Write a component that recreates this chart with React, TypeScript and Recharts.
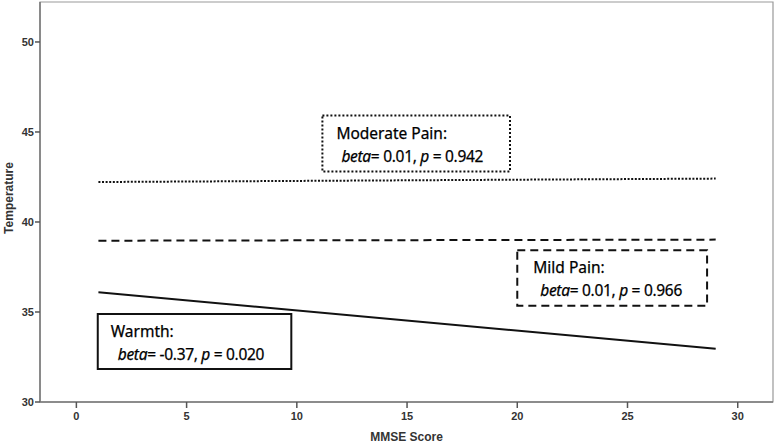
import { LineChart, Line, XAxis, YAxis, ReferenceArea } from "recharts";

// MMSE score endpoints of the fitted lines
const mmse = [1, 29];
const moderatePain = [42.22, 42.41];
const mildPain = [38.96, 39.02];
const warmth = [36.09, 32.96];

const xTicks = [0, 5, 10, 15, 20, 25, 30];
const yTicks = [30, 35, 40, 45, 50];
const xDomain = [-1.65, 31.6];
const yDomain = [30, 52.22];

// annotation boxes
const boxes = [
  { title: "Moderate Pain:", beta: "0.01", p: "0.942", x1: 11.16, x2: 19.67, y1: 42.81, y2: 45.91, dash: "2 2", dx1: 14, dx2: 19 },
  { title: "Mild Pain:", beta: "0.01", p: "0.966", x1: 20.0, x2: 28.61, y1: 35.35, y2: 38.43, dash: "8 5", dx1: 16, dx2: 23 },
  { title: "Warmth:", beta: "-0.37", p: "0.020", x1: 0.97, x2: 9.75, y1: 31.83, y2: 34.89, dash: undefined, dx1: 13, dx2: 20 },
];

const data = mmse.map((x, i) => ({
  x,
  moderate: moderatePain[i],
  mild: mildPain[i],
  warmth: warmth[i],
}));

const tickStyle = {
  fontSize: 11,
  fontWeight: 700,
  fill: "#333",
  fontFamily: "'Liberation Sans Narrow', 'Liberation Sans', Arial, sans-serif",
};

const boxFont = "'Noto Sans', 'Open Sans', sans-serif";

function boxLabel(b: (typeof boxes)[number]) {
  return (props: any) => {
    const vb = props.viewBox || {};
    return (
      <g>
        <text x={vb.x + b.dx1} y={vb.y + 23} fontSize={15.5} fontFamily={boxFont} fill="#000" stroke="#000" strokeWidth={0.25}>
          {b.title}
        </text>
        <text x={vb.x + b.dx2} y={vb.y + 46} fontSize={15.5} letterSpacing={-0.3} fontFamily={boxFont} fill="#000" stroke="#000" strokeWidth={0.25}>
          <tspan fontStyle="italic">beta</tspan>
          <tspan>{`= ${b.beta}, `}</tspan>
          <tspan fontStyle="italic">p</tspan>
          <tspan>{` = ${b.p}`}</tspan>
        </text>
      </g>
    );
  };
}

const yTitle = () => {
  const cy = 198;
  return (
    <text x={9} y={cy} transform={`rotate(-90, 9, ${cy})`} textAnchor="middle" dominantBaseline="central"
      fontSize={12} fontWeight={700} fill="#333" fontFamily={tickStyle.fontFamily}>
      Temperature
    </text>
  );
};

const xTitle = (props: any) => {
  const vb = props.viewBox || {};
  return (
    <text x={vb.x + vb.width / 2} y={441} textAnchor="middle"
      fontSize={12} fontWeight={700} fill="#333" fontFamily={tickStyle.fontFamily}>
      MMSE Score
    </text>
  );
};

export default function App() {
  return (
    <div style={{ position: "absolute", left: 0, top: 0, background: "#fff" }}>
      <LineChart width={778} height={445} data={data} margin={{ top: 2, right: 5, left: 0, bottom: 0 }}>
        <XAxis
          dataKey="x"
          type="number"
          domain={xDomain}
          ticks={xTicks}
          allowDataOverflow
          height={43}
          tick={tickStyle}
          tickSize={6}
          tickMargin={4}
          axisLine={{ stroke: "#777", strokeWidth: 1.5 }}
          tickLine={{ stroke: "#555", strokeWidth: 1.5 }}
          label={xTitle}
        />
        <YAxis
          type="number"
          domain={yDomain}
          ticks={yTicks}
          allowDataOverflow
          width={40}
          tick={tickStyle}
          tickSize={5}
          tickMargin={1}
          axisLine={{ stroke: "#777", strokeWidth: 1.5 }}
          tickLine={{ stroke: "#555", strokeWidth: 1.5 }}
          label={yTitle}
        />
        {/* plot frame */}
        <ReferenceArea
          x1={xDomain[0]}
          x2={xDomain[1]}
          y1={yDomain[0]}
          y2={yDomain[1]}
          fill="none"
          fillOpacity={0}
          stroke="#999"
          strokeWidth={1.2}
          ifOverflow="visible"
        />
        {boxes.map((b) => (
          <ReferenceArea
            key={b.title}
            x1={b.x1}
            x2={b.x2}
            y1={b.y1}
            y2={b.y2}
            fill="#fff"
            fillOpacity={0}
            stroke="#111"
            strokeWidth={2}
            strokeDasharray={b.dash}
            ifOverflow="visible"
            label={boxLabel(b)}
          />
        ))}
        <Line dataKey="moderate" stroke="#111" strokeWidth={2} strokeDasharray="2 1.6" dot={false} isAnimationActive={false} />
        <Line dataKey="mild" stroke="#111" strokeWidth={2} strokeDasharray="8 5" dot={false} isAnimationActive={false} />
        <Line dataKey="warmth" stroke="#111" strokeWidth={2} dot={false} isAnimationActive={false} />
      </LineChart>
    </div>
  );
}
